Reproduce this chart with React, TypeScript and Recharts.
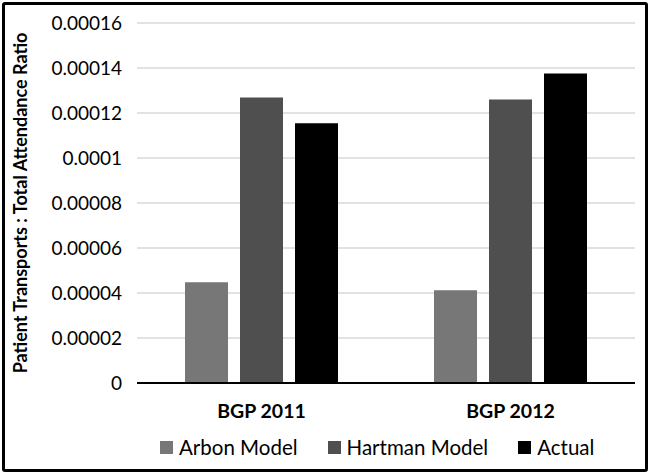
import { BarChart, Bar, XAxis, YAxis, CartesianGrid, Legend } from "recharts";

const categories = ["BGP 2011", "BGP 2012"];
const arbonModel = [0.0000448, 0.0000412];
const hartmanModel = [0.0001269, 0.000126];
const actual = [0.0001155, 0.0001376];
const yTicks = [0, 0.00002, 0.00004, 0.00006, 0.00008, 0.0001, 0.00012, 0.00014, 0.00016];

const series = [
  { key: "arbon", name: "Arbon Model", color: "#777777" },
  { key: "hartman", name: "Hartman Model", color: "#4f4f4f" },
  { key: "actual", name: "Actual", color: "#000000" },
];

const data = categories.map((c, i) => ({
  name: c,
  arbon: arbonModel[i],
  hartman: hartmanModel[i],
  actual: actual[i],
}));

const FONT = "Lato, 'Open Sans', sans-serif";

const fmt = (v: number) => parseFloat(v.toFixed(6)).toString();

const LegendContent = () => (
  <div style={{ display: "flex", gap: 30, paddingLeft: 160, paddingTop: 12, fontFamily: FONT, fontSize: 20.5, color: "#000" }}>
    {series.map((s) => (
      <div key={s.key} style={{ display: "flex", alignItems: "center", gap: 6 }}>
        <span style={{ width: 13, height: 13, background: s.color, display: "inline-block" }} />
        <span>{s.name}</span>
      </div>
    ))}
  </div>
);

const App = () => {
  return (
    <div style={{ position: "absolute", left: 0, top: 0, width: 650, height: 475, background: "#fff" }}>
      <BarChart
        width={650}
        height={475}
        data={data}
        margin={{ top: 23, right: 15, bottom: 0, left: 0 }}
        barSize={43}
        barGap={12}
      >
        <CartesianGrid vertical={false} stroke="#d9d9d9" strokeWidth={1.5} />
        <YAxis
          width={137}
          domain={[0, 0.00016]}
          ticks={yTicks}
          tickFormatter={fmt}
          axisLine={false}
          tickLine={false}
          tickSize={6}
          tickMargin={9}
          tick={{ fill: "#000", fontSize: 19, fontFamily: FONT }}
          label={{
            value: "Patient Transports : Total Attendance Ratio",
            angle: -90,
            position: "insideLeft",
            offset: 21,
            style: { textAnchor: "middle", fontFamily: FONT, fontSize: 18, fontWeight: 700, fill: "#000" },
          }}
        />
        <XAxis
          dataKey="name"
          height={40}
          axisLine={{ stroke: "#000", strokeWidth: 2 }}
          tickLine={false}
          tickSize={6}
          tickMargin={15}
          tick={{ fill: "#000", fontSize: 19.5, fontWeight: 700, fontFamily: FONT }}
        />
        <Legend verticalAlign="bottom" height={52} content={<LegendContent />} />
        {series.map((s) => (
          <Bar key={s.key} dataKey={s.key} name={s.name} fill={s.color} isAnimationActive={false} />
        ))}
      </BarChart>
      <div
        style={{
          position: "absolute",
          left: 2,
          top: 2,
          width: 640,
          height: 464,
          border: "3px solid #000",
          borderRadius: 3,
          pointerEvents: "none",
        }}
      />
    </div>
  );
};

export default App;
